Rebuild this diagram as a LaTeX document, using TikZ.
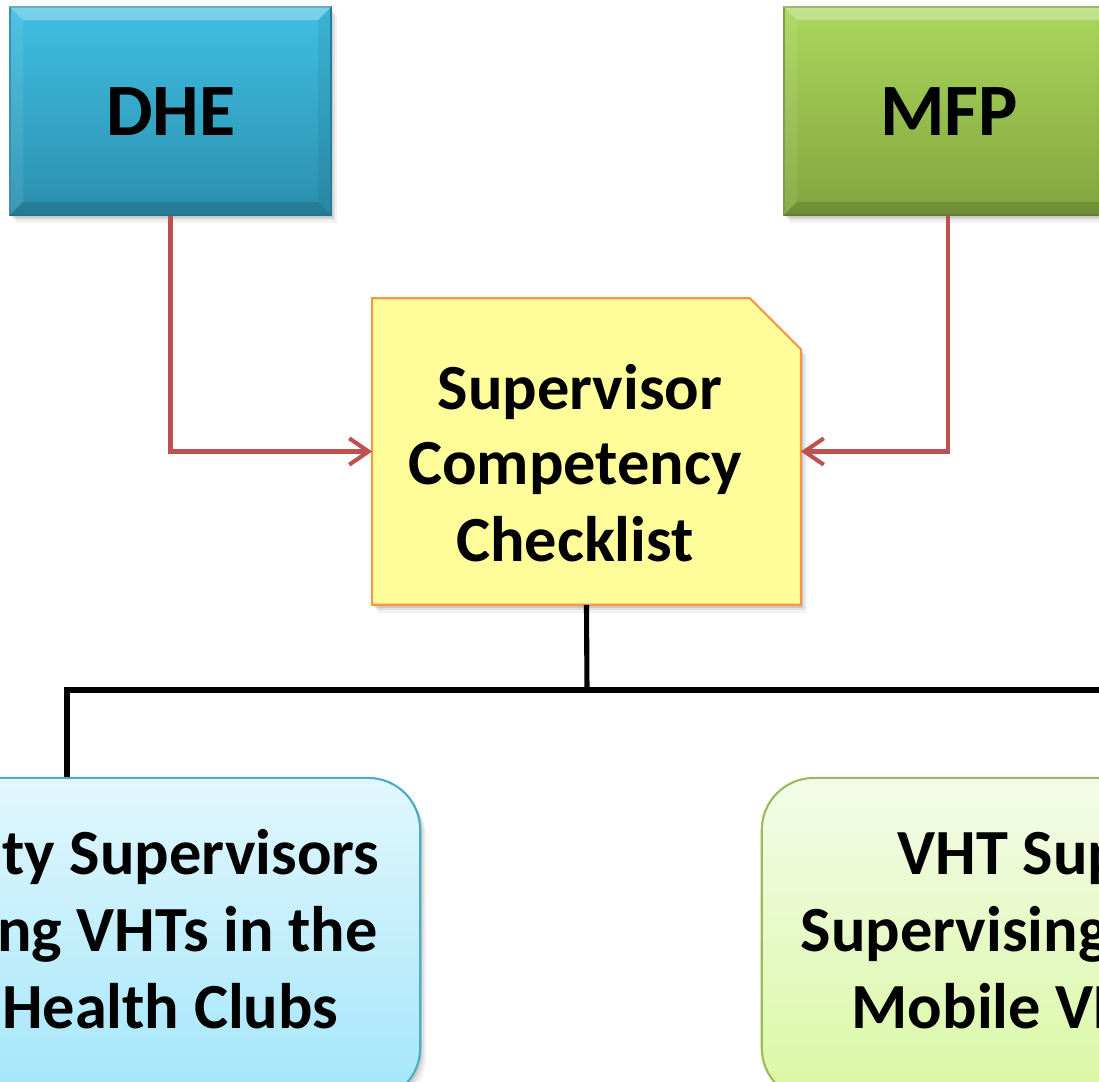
\documentclass[tikz,border=0pt]{standalone}
\usepackage{fontspec}
\setmainfont{Carlito}
\usetikzlibrary{arrows.meta,shadows}

\definecolor{dhetop}{HTML}{3FBFE2}
\definecolor{dhebot}{HTML}{2C8FAE}
\definecolor{dheedge}{HTML}{2A86A4}
\definecolor{mfptop}{HTML}{AAD75C}
\definecolor{mfpbot}{HTML}{82A53E}
\definecolor{mfpedge}{HTML}{76963A}
\definecolor{notefill}{HTML}{FFFD9A}
\definecolor{noteline}{HTML}{F79646}
\definecolor{linkred}{HTML}{C0504D}
\definecolor{bluetop}{HTML}{E2F7FD}
\definecolor{bluebot}{HTML}{A3E6FA}
\definecolor{blueline}{HTML}{4BACC6}
\definecolor{greentop}{HTML}{F4FBE9}
\definecolor{greenbot}{HTML}{D9F8A3}
\definecolor{greenline}{HTML}{9BBB59}

% bevel strips laid over a shaded rectangle node
\newcommand\bevelstrips[1]{%
  \fill[white,opacity=0.30] (#1.north west) -- (#1.north east)
    -- ([shift={(-14,14)}]#1.north east) -- ([shift={(14,14)}]#1.north west) -- cycle;
  \fill[white,opacity=0.08] (#1.north west) -- ([shift={(14,14)}]#1.north west)
    -- ([shift={(14,-14)}]#1.south west) -- (#1.south west) -- cycle;
  \fill[black,opacity=0.06] (#1.north east) -- ([shift={(-14,14)}]#1.north east)
    -- ([shift={(-14,-14)}]#1.south east) -- (#1.south east) -- cycle;
  \fill[black,opacity=0.14] (#1.south west) -- ([shift={(14,-14)}]#1.south west)
    -- ([shift={(-14,-14)}]#1.south east) -- (#1.south east) -- cycle;
}

\tikzset{
  softshadow/.style={
    general shadow={fill=black, opacity=0.10, shadow xshift=0.02cm, shadow yshift=-0.03cm},
    general shadow={fill=black, opacity=0.07, shadow xshift=0.04cm, shadow yshift=-0.05cm},
    general shadow={fill=black, opacity=0.05, shadow xshift=0.06cm, shadow yshift=-0.08cm}},
  topbox/.style={rectangle, inner sep=0pt, minimum height=2.08cm, line width=0.4pt, softshadow},
  dhebox/.style={topbox, minimum width=3.21cm, top color=dhetop, bottom color=dhebot, draw=dheedge},
  mfpbox/.style={topbox, minimum width=3.28cm, top color=mfptop, bottom color=mfpbot, draw=mfpedge},
  bigtext/.style={font=\fontsize{21pt}{25pt}\selectfont\bfseries, anchor=base, inner sep=0pt},
  bodytext/.style={font=\fontsize{18.3pt}{22pt}\selectfont\bfseries, inner sep=0pt},
  roundbox/.style={rectangle, rounded corners=0.52cm, minimum height=3.22cm, line width=0.6pt, softshadow},
  bluebox/.style={roundbox, minimum width=7.06cm, top color=bluetop, bottom color=bluebot, draw=blueline},
  greenbox/.style={roundbox, minimum width=6.90cm, top color=greentop, bottom color=greenbot, draw=greenline},
  feed/.style={draw=linkred, line width=1.15pt, -{Straight Barb[length=5.5pt,width=7.5pt,line width=1.15pt]}},
  tree/.style={draw=black, line width=1.45pt}
}

\begin{document}
\begin{tikzpicture}[x=0.01cm, y=-0.01cm]
\useasboundingbox (0,0) rectangle (1099,1082);
\clip (0,0) rectangle (1099,1082);
\fill[white] (0,0) rectangle (1099,1082);

% source boxes
\node[dhebox] (dhe) at (170.5,111) {};
\bevelstrips{dhe}
\node[bigtext] (dhetxt) at (171,136) {DHE};

\node[mfpbox] (mfp) at (948,111) {};
\bevelstrips{mfp}
\node[bigtext] (mfptxt) at (949,136) {MFP};

% checklist note with folded corner
\node[rectangle, inner sep=0pt, minimum width=4.27cm, minimum height=3.05cm] (note) at (586.5,451.5) {};
\filldraw[fill=notefill, draw=noteline, line width=0.6pt, softshadow]
  (note.south west) -- (note.north west) -- ([xshift=-0.51cm]note.north east)
  -- ([yshift=-0.51cm]note.north east) -- (note.south east) -- cycle;
\node[bodytext, anchor=base] (n1) at (580,410) {Supervisor};
\node[bodytext, anchor=base] (n2) at (575,485) {Competency};
\node[bodytext, anchor=base] (n3) at (575,562) {Checklist};

% supervision level boxes
\node[bluebox] (lbox) at (67,939) {};
\node[bodytext, anchor=base east] (l1) at (380,875) {County Supervisors};
\node[bodytext, anchor=base east] (l2) at (378,952) {Supervising VHTs in the};
\node[bodytext, anchor=base east] (l3) at (339,1028) {Health Clubs};

\node[greenbox] (rbox) at (1107,939) {};
\node[bodytext, anchor=base west] (r1) at (897,875) {VHT Supervisors};
\node[bodytext, anchor=base west] (r2) at (800,952) {Supervising};
\node[bodytext, anchor=base west] (r3) at (851,1028) {Mobile VHTs};

% inputs to the checklist
\draw[feed] (dhe.south) |- (note.west);
\draw[feed] (mfp.south) |- (note.east);

% distribution tree
\coordinate (jn) at (587,690);
\draw[tree] (note.south) -- (jn);
\draw[tree] (lbox.north) |- (jn) -| (rbox.north);
\end{tikzpicture}
\end{document}
